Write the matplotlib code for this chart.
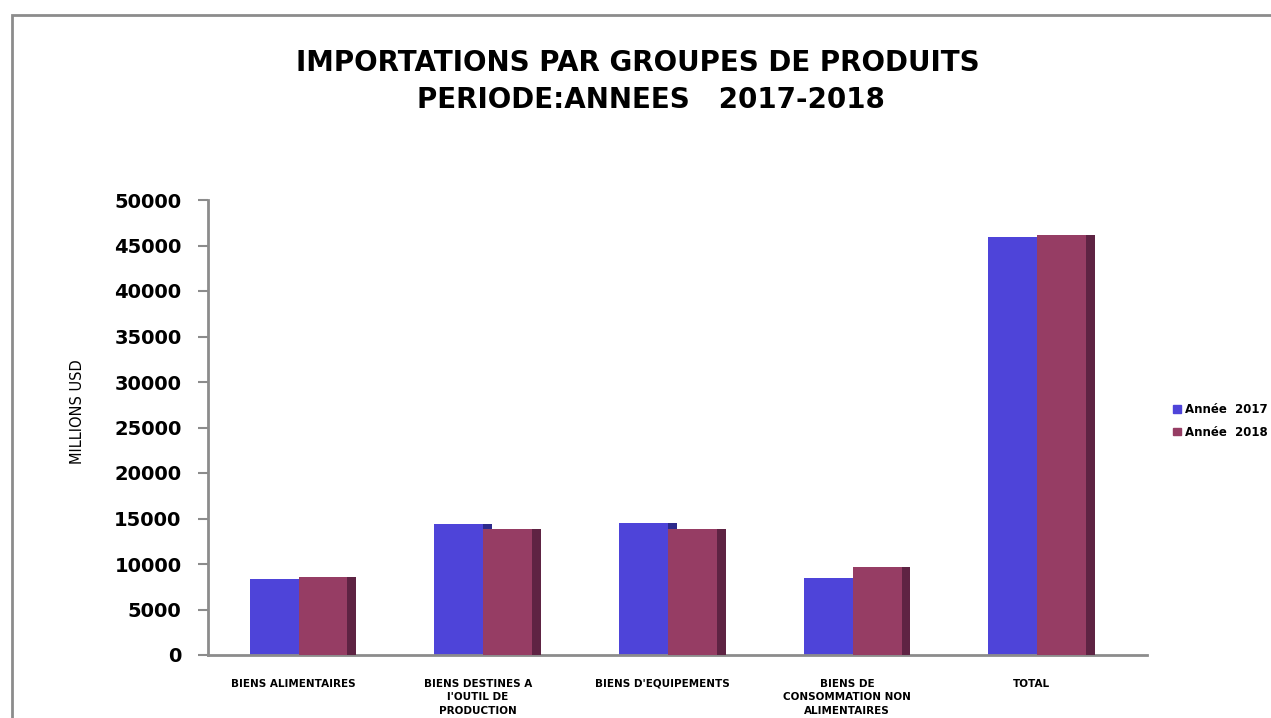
import matplotlib
matplotlib.use('Agg')
import matplotlib.pyplot as plt
import numpy as np
from matplotlib.patches import Rectangle, Patch

categories = ["BIENS ALIMENTAIRES", "BIENS DESTINES A\nl'OUTIL DE\nPRODUCTION",
              "BIENS D'EQUIPEMENTS", "BIENS DE\nCONSOMMATION NON\nALIMENTAIRES", "TOTAL"]
series_names = ["Année  2017", "Année  2018"]
values_2017 = [8350, 14430, 14540, 8420, 45970]
values_2018 = [8550, 13810, 13880, 9710, 46150]
yticks = [0, 5000, 10000, 15000, 20000, 25000, 30000, 35000, 40000, 45000, 50000]

plt.rcParams['font.family'] = ['DejaVu Sans']

blue = '#4e44d9'
blue_side = '#2d2a8c'
maroon = '#963d64'
maroon_side = '#5e2343'

fig = plt.figure(figsize=(12.71, 7.18), dpi=100)
ax = fig.add_axes([208/1271, 1-655/718, 939/1271, 455/718])

x = np.arange(len(categories))
w = 0.265
depth = 0.047
left_blue = x - 0.235
left_maroon = left_blue + w

# side faces (pseudo 3D depth)
ax.bar(left_blue + w, values_2017, width=depth, align='edge', color=blue_side, zorder=1)
ax.bar(left_blue, values_2017, width=w, align='edge', color=blue, zorder=2)
ax.bar(left_maroon + w, values_2018, width=depth, align='edge', color=maroon_side, zorder=3)
ax.bar(left_maroon, values_2018, width=w, align='edge', color=maroon, zorder=4)

ax.set_xlim(-0.46, 4.623)
ax.set_ylim(0, 50000)
ax.set_yticks(yticks)
ax.set_yticklabels([str(v) for v in yticks], fontsize=14, fontweight='bold')
ax.set_xticks(x)
ax.set_xticklabels(categories, fontsize=7.5, fontweight='bold', linespacing=1.45)
ax.tick_params(axis='x', length=0, pad=17)
ax.tick_params(axis='y', length=7, width=1.5, color='#8c8c8c', pad=12, direction='out')

for s in ['top', 'right']:
    ax.spines[s].set_visible(False)
for s in ['left', 'bottom']:
    ax.spines[s].set_color('#8c8c8c')
    ax.spines[s].set_linewidth(2)

fig.text(78/1271, 1-412/718, 'MILLIONS USD', rotation=90, ha='center', va='center',
         fontsize=10.5)

fig.text(638/1271, 1-63/718, 'IMPORTATIONS PAR GROUPES DE PRODUITS', ha='center', va='center',
         fontsize=20, fontweight='bold')
fig.text(651/1271, 1-100/718, 'PERIODE:ANNEES   2017-2018', ha='center', va='center',
         fontsize=20, fontweight='bold')

handles = [Patch(color=blue), Patch(color=maroon)]
leg = fig.legend(handles, series_names, loc='center right', bbox_to_anchor=(1268/1271, 1-421/718),
                 frameon=False, prop={'size': 8.5, 'weight': 'bold'}, handlelength=0.6,
                 handleheight=0.6, handletextpad=0.4, labelspacing=0.8, borderpad=0,
                 borderaxespad=0)

# outer chart border
fig.patches.append(Rectangle((12/1271, -0.1), 1.2, 1-15/718+0.1, transform=fig.transFigure,
                             fill=False, edgecolor='#8c8c8c', linewidth=2))

fig.savefig('out.png', dpi=100)
